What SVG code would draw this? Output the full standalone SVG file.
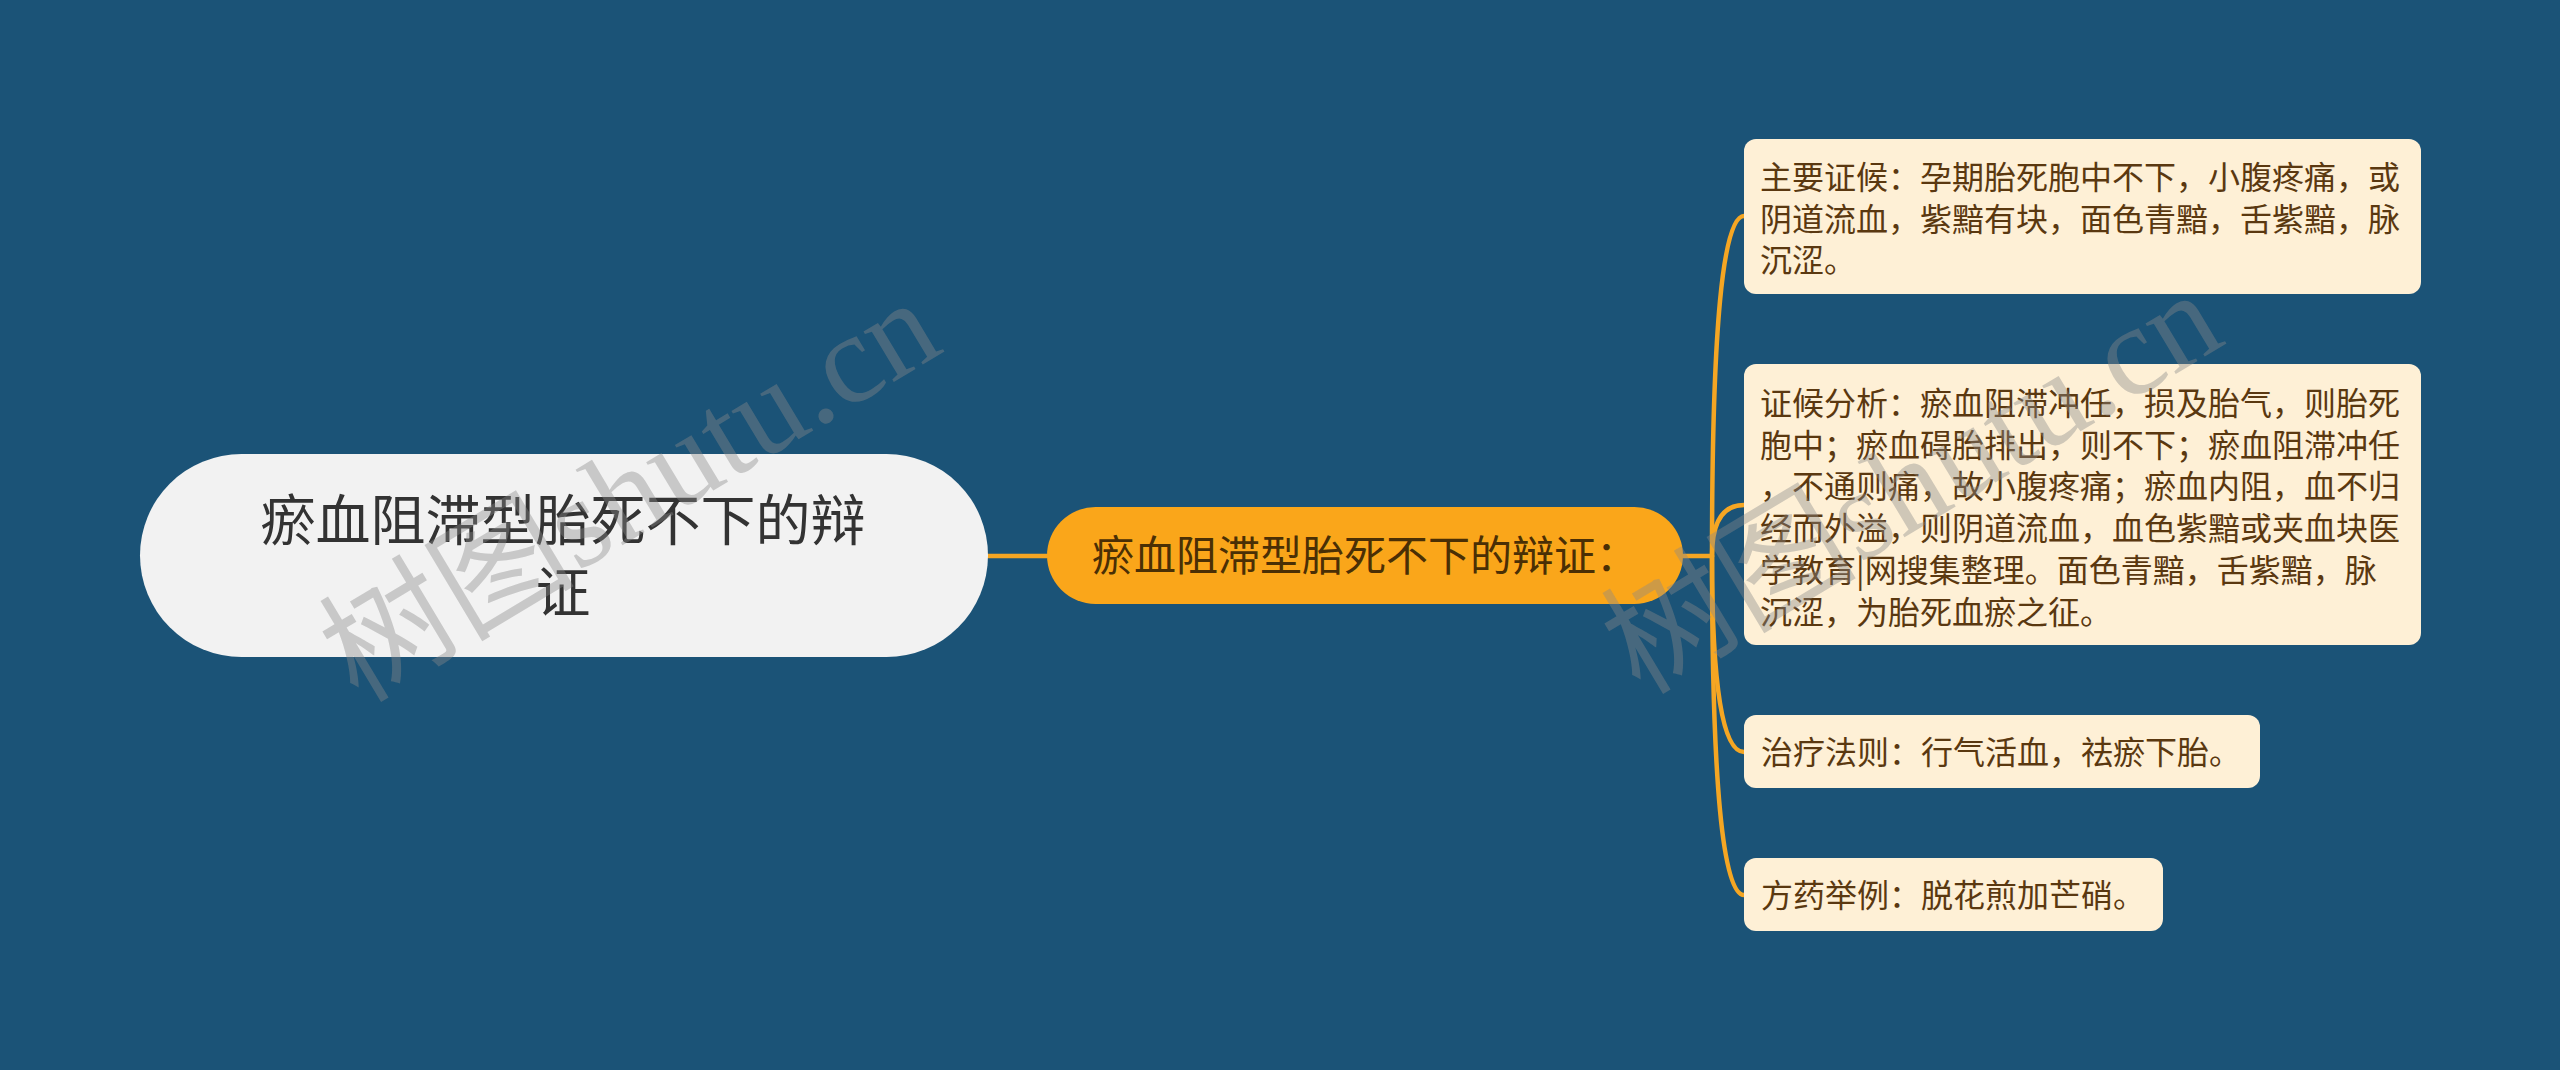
<svg xmlns="http://www.w3.org/2000/svg" width="2560" height="1070" viewBox="0 0 2560 1070">
<style>
.cjk{font-family:"Noto Sans CJK SC","Noto Sans",sans-serif}
.root-t{font-size:55px;fill:#333333}
.mid-t{font-size:42px;fill:#4a2f05}
.leaf-t{font-size:32px;fill:#5a3810}
.leaf{fill:#fef0d6}
.conn{fill:none;stroke:#f5a623;stroke-width:4.5;stroke-linecap:round}
.wm{font-family:"Liberation Serif","Noto Sans CJK SC",serif;font-size:128px;fill:#8a8a8a;fill-opacity:0.4}
</style>
<rect width="2560" height="1070" fill="#1b5377"/>
<g id="connectors">
<path class="conn" d="M988 556 L1047 556"/>
<path class="conn" d="M1683 556 L1712 556"/>
<path class="conn" d="M1712 556 Q1712 216 1744 216"/>
<path class="conn" d="M1712 556 Q1712 505 1744 505"/>
<path class="conn" d="M1712 556 Q1712 752 1744 752"/>
<path class="conn" d="M1712 556 Q1712 895 1744 895"/>
</g>
<g id="root">
<rect x="140" y="454" width="848" height="203" rx="101.5" fill="#f2f2f2"/>
<text class="cjk root-t" x="563" y="540" text-anchor="middle">瘀血阻滞型胎死不下的辩</text>
<text class="cjk root-t" x="563" y="612" text-anchor="middle">证</text>
</g>
<g id="middle">
<rect x="1047" y="507" width="636" height="97" rx="48.5" fill="#faa61a"/>
<text class="cjk mid-t" x="1092" y="571">瘀血阻滞型胎死不下的辩证：</text>
</g>
<g id="leaf1">
<rect class="leaf" x="1744" y="139" width="677" height="155" rx="12"/>
<text class="cjk leaf-t" x="1760" y="189">主要证候：孕期胎死胞中不下，小腹疼痛，或</text>
<text class="cjk leaf-t" x="1760" y="231">阴道流血，紫黯有块，面色青黯，舌紫黯，脉</text>
<text class="cjk leaf-t" x="1760" y="272">沉涩。</text>
</g>
<g id="leaf2">
<rect class="leaf" x="1744" y="364" width="677" height="281" rx="12"/>
<text class="cjk leaf-t" x="1760" y="415">证候分析：瘀血阻滞冲任，损及胎气，则胎死</text>
<text class="cjk leaf-t" x="1760" y="457">胞中；瘀血碍胎排出，则不下；瘀血阻滞冲任</text>
<text class="cjk leaf-t" x="1760" y="498">，不通则痛，故小腹疼痛；瘀血内阻，血不归</text>
<text class="cjk leaf-t" x="1760" y="540">经而外溢，则阴道流血，血色紫黯或夹血块医</text>
<text class="cjk leaf-t" x="1760" y="582">学教育|网搜集整理。面色青黯，舌紫黯，脉</text>
<text class="cjk leaf-t" x="1760" y="624">沉涩，为胎死血瘀之征。</text>
</g>
<g id="leaf3">
<rect class="leaf" x="1744" y="715" width="516" height="73" rx="12"/>
<text class="cjk leaf-t" x="1761" y="764">治疗法则：行气活血，祛瘀下胎。</text>
</g>
<g id="leaf4">
<rect class="leaf" x="1744" y="858" width="419" height="73" rx="12"/>
<text class="cjk leaf-t" x="1761" y="907">方药举例：脱花煎加芒硝。</text>
</g>
<g id="watermarks">
<text class="wm" transform="translate(358 704) rotate(-31)">树图shutu.cn</text>
<text class="wm" transform="translate(1640 696) rotate(-31)">树图shutu.cn</text>
</g>
</svg>
